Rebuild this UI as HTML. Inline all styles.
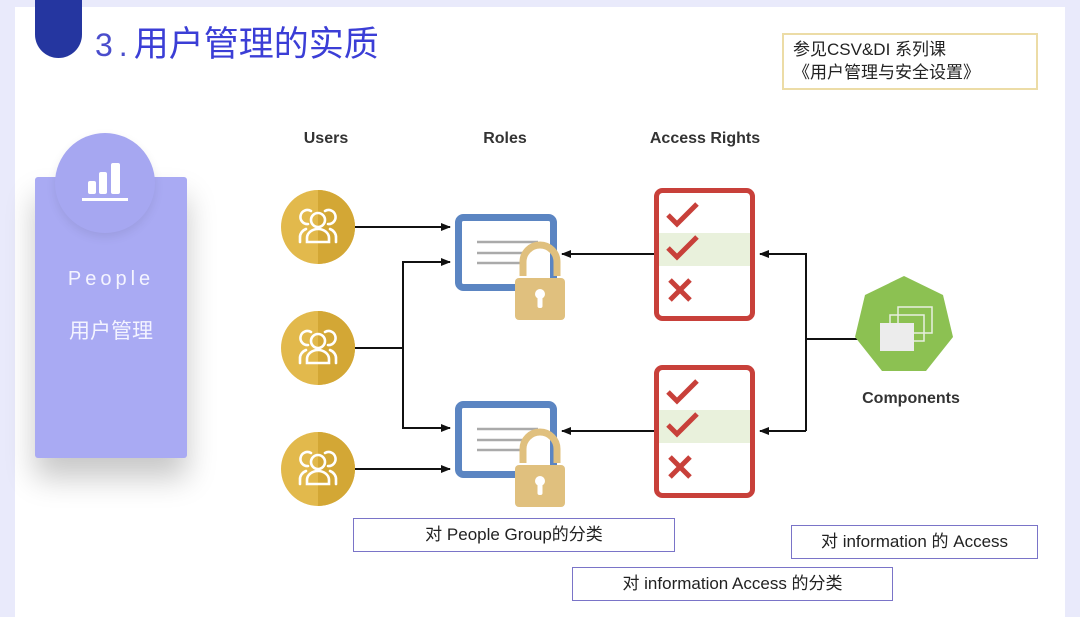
<!DOCTYPE html>
<html><head><meta charset="utf-8"><style>
html,body{margin:0;padding:0;background:#e9eafb;}
body{width:1080px;height:608px;position:relative;overflow:hidden;font-family:"Liberation Sans","Noto Sans CJK SC",sans-serif;}
.panel{position:absolute;left:15px;top:7px;width:1050px;height:610px;background:#fff;}
.tab{position:absolute;left:35px;top:-10px;width:47px;height:68px;background:#2536a0;border-radius:0 0 24px 24px;}
.title{position:absolute;left:95px;top:16px;font-size:35px;color:#3b3ed6;font-family:"Noto Sans CJK SC",sans-serif;white-space:nowrap;}
.title span{font-family:"Liberation Sans",sans-serif;font-weight:normal;color:#4a4dcc;letter-spacing:6px;font-size:32px;}
.note{position:absolute;left:782px;top:33px;width:256px;height:57px;border:2px solid #ecdca6;box-sizing:border-box;font-size:17px;line-height:23px;padding:3px 0 0 9px;color:#222;font-family:"Liberation Sans","Noto Sans CJK SC",sans-serif;}
.card{position:absolute;left:35px;top:177px;width:152px;height:281px;background:#a9aaf3;border-radius:3px;box-shadow:0 20px 30px rgba(0,0,0,0.22);}
.circ{position:absolute;left:55px;top:133px;width:100px;height:100px;border-radius:50%;background:#a6a7f1;box-shadow:0 4px 10px rgba(0,0,0,0.08);}
.lbl{position:absolute;color:#f4f4ff;text-align:center;width:152px;left:35px;}
.box{position:absolute;border:1.5px solid #7a74c8;box-sizing:border-box;font-size:17px;text-align:center;color:#222;font-family:"Liberation Sans","Noto Sans CJK SC",sans-serif;}
</style></head><body>
<div class="panel"></div>
<div class="tab"></div>
<div class="title"><span>3.</span>用户管理的实质</div>
<div class="note">参见CSV&amp;DI 系列课<br>《用户管理与安全设置》</div>
<div class="card"></div>
<div class="circ"></div>
<svg style="position:absolute;left:0;top:0" width="1080" height="608">
<g fill="#fff"><rect x="88" y="181" width="8" height="13" rx="2"/><rect x="99" y="172" width="8" height="22" rx="2"/><rect x="111" y="163" width="9" height="31" rx="2"/><rect x="82" y="198" width="46" height="3"/></g>
</svg>
<div class="lbl" style="top:268px;font-size:20px;letter-spacing:4px;">People</div>
<div class="lbl" style="top:315px;font-size:21px;font-family:'Noto Sans CJK SC',sans-serif;">用户管理</div>

<svg style="position:absolute;left:0;top:0" width="1080" height="608" font-family="Liberation Sans, sans-serif">
<defs>
<marker id="ar" markerWidth="10" markerHeight="8" refX="9" refY="4" orient="auto" markerUnits="userSpaceOnUse"><path d="M0,0 L10,4 L0,8z" fill="#111"/></marker>
<g id="user"><circle r="37" fill="#e2b94c"/><path d="M0,-37 A37,37 0 0 1 0,37z" fill="#d3a735"/>
<g fill="none" stroke="#fff" stroke-width="2.6" stroke-linecap="round"><circle cx="0" cy="-7" r="7"/><path d="M-11,15 v-4 a11,9 0 0 1 22,0 v4z"/><path d="M-7,-16 a7,7 0 1 0 -3,13 M-12,2 a10,9 0 0 0 -6,9 v4"/><path d="M7,-16 a7,7 0 1 1 3,13 M12,2 a10,9 0 0 1 6,9 v4"/></g></g>
<g id="role"><rect x="3.5" y="3.5" width="95" height="70" rx="5" fill="#fff" stroke="#5b85c2" stroke-width="7"/>
<g stroke="#aaa" stroke-width="2.5"><line x1="22" y1="28" x2="83" y2="28"/><line x1="22" y1="39" x2="70" y2="39"/><line x1="22" y1="49" x2="65" y2="49"/></g>
<path d="M68,62 v-14 a17,17 0 0 1 34,0 v14" fill="none" stroke="#e0c07e" stroke-width="7"/>
<rect x="60" y="64" width="50" height="42" rx="4" fill="#e0c07e"/><circle cx="85" cy="80" r="5" fill="#fff"/><rect x="82.5" y="80" width="5" height="14" rx="2" fill="#fff"/></g>
<g id="acc"><rect x="2.5" y="2.5" width="96" height="128" rx="6" fill="#fff" stroke="#c8403a" stroke-width="5"/>
<rect x="5" y="45" width="91" height="33" fill="#e9f1dc"/>
<g fill="none" stroke="#c8403a" stroke-width="5"><path d="M14,27 l9,9 l20,-20"/><path d="M14,60 l9,9 l20,-20"/><path d="M16,92 l20,20 M36,92 l-20,20"/></g></g>
</defs>
<text x="326" y="143" text-anchor="middle" font-weight="bold" font-size="16" fill="#333">Users</text>
<text x="505" y="143" text-anchor="middle" font-weight="bold" font-size="16" fill="#333">Roles</text>
<text x="705" y="143" text-anchor="middle" font-weight="bold" font-size="16" fill="#333">Access Rights</text>
<use href="#user" x="318" y="227"/><use href="#user" x="318" y="348"/><use href="#user" x="318" y="469"/>
<use href="#role" x="455" y="214"/><use href="#role" x="455" y="401"/>
<use href="#acc" x="654" y="188"/><use href="#acc" x="654" y="365"/>
<g stroke="#111" stroke-width="2" fill="none">
<line x1="355" y1="227" x2="450" y2="227" marker-end="url(#ar)"/>
<line x1="355" y1="469" x2="450" y2="469" marker-end="url(#ar)"/>
<polyline points="355,348 403,348"/>
<polyline points="450,262 403,262 403,428 450,428" marker-end="url(#ar)"/>
<line x1="403" y1="262" x2="450" y2="262" marker-end="url(#ar)"/>
<line x1="654" y1="254" x2="562" y2="254" marker-end="url(#ar)"/>
<line x1="654" y1="431" x2="562" y2="431" marker-end="url(#ar)"/>
<polyline points="806,431 806,254 760,254" marker-end="url(#ar)"/>
<line x1="806" y1="431" x2="760" y2="431" marker-end="url(#ar)"/>
<line x1="860" y1="339" x2="806" y2="339"/>
</g>
<polygon points="904,276 943,295 953,337 926,371 882,371 855,337 865,295" fill="#8cc152"/>
<g stroke="#e8efe0" stroke-width="1.5" fill="none"><rect x="898" y="307" width="34" height="26"/><rect x="890" y="315" width="34" height="26"/></g>
<rect x="880" y="323" width="34" height="28" fill="#ececec"/>
<text x="911" y="403" text-anchor="middle" font-weight="bold" font-size="16" fill="#333">Components</text>
</svg>
<div class="box" style="left:353px;top:518px;width:322px;height:34px;line-height:32px;">对 People Group的分类</div>
<div class="box" style="left:791px;top:525px;width:247px;height:34px;line-height:32px;">对 information 的 Access</div>
<div class="box" style="left:572px;top:567px;width:321px;height:34px;line-height:32px;">对 information Access 的分类</div>
</body></html>
